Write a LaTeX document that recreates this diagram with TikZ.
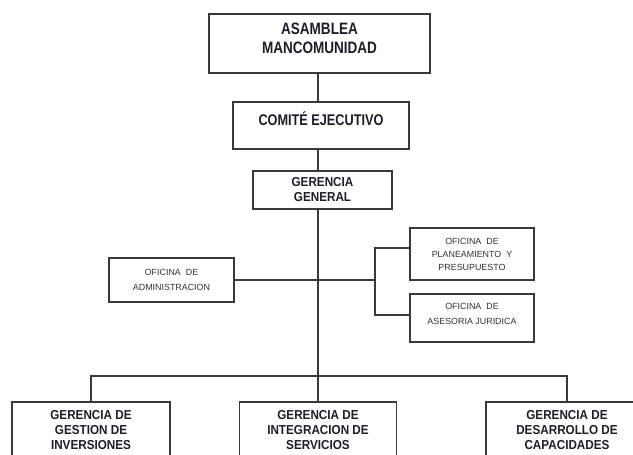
\documentclass[tikz,border=0pt]{standalone}
\usepackage{fontspec}
\setmainfont{Liberation Sans}
\newfontfamily\narrowfont{Liberation Sans}[FakeStretch=0.82]
\newfontfamily\gerfont{Liberation Sans}[FakeStretch=0.9]
\definecolor{ink}{HTML}{1E1E2A}
\definecolor{wire}{HTML}{3A3A3A}
\definecolor{softink}{HTML}{2E3632}
\begin{document}
\begin{tikzpicture}[x=1pt, y=-1pt,
  box/.style = {draw=wire, line width=1.3pt, inner sep=0pt},
  big/.style = {font=\narrowfont\bfseries\fontsize{16.5}{19}\selectfont, text=ink, align=center},
  ger/.style = {font=\gerfont\bfseries\fontsize{13}{15}\selectfont, text=ink, align=center},
  ofi/.style = {font=\fontsize{8.9}{15}\selectfont, text=softink, align=center}]
	\useasboundingbox (0,0) rectangle (633,455);
	\fill[white] (0,0) rectangle (633,455);
	\clip (0,0) rectangle (633,455);
	\node[box, minimum width=221pt, minimum height=59pt, label={[big, yshift=5pt]center:ASAMBLEA\\MANCOMUNIDAD}] (asm) at (319.5,43.5) {};
	\node[box, minimum width=176pt, minimum height=47pt, label={[big, font=\narrowfont\bfseries\fontsize{15.5}{18}\selectfont, yshift=6.5pt]center:COMITÉ EJECUTIVO}] (com) at (321,125.5) {};
	\node[box, minimum width=139pt, minimum height=38pt, label={[ger]center:GERENCIA\\GENERAL}] (gg) at (322.5,190) {};
	\node[box, minimum width=125pt, minimum height=44pt, label={[ofi]center:OFICINA\ \ DE\\ADMINISTRACION}] (adm) at (171.5,280) {};
	\node[box, minimum width=124pt, minimum height=52pt, label={[ofi, font=\fontsize{8.9}{13}\selectfont]center:OFICINA\ \ DE\\PLANEAMIENTO\ \ Y\\PRESUPUESTO}] (pla) at (472,254) {};
	\node[box, minimum width=124pt, minimum height=48pt, label={[ofi, yshift=4.5pt]center:OFICINA\ \ DE\\ASESORIA JURIDICA}] (ase) at (472,318) {};
	\node[box, minimum width=158pt, minimum height=58pt, label={[ger, yshift=1pt]center:GERENCIA DE\\GESTION DE\\INVERSIONES}] (inv) at (91,431) {};
	\node[box, minimum width=157pt, minimum height=58pt, label={[ger, yshift=1pt]center:GERENCIA DE\\INTEGRACION DE\\SERVICIOS}] (srv) at (318,431) {};
	\node[box, minimum width=162pt, minimum height=58pt, label={[ger, yshift=1pt]center:GERENCIA DE\\DESARROLLO DE\\CAPACIDADES}] (cap) at (567,431) {};
	\coordinate (brk) at (375,280);
	\coordinate (bus) at (318,376);
	\draw[wire, line width=1.2pt] (asm.south -| srv.north) -- (com.north -| srv.north);
	\draw[wire, line width=1.2pt] (com.south -| srv.north) -- (gg.north -| srv.north);
	\draw[wire, line width=1.2pt] (gg.south -| srv.north) -- (srv.north);
	\draw[wire, line width=1.2pt] (adm.east) -- (brk);
	\draw[wire, line width=1.2pt] ([yshift=6pt]pla.west) -| (brk) |- ([yshift=3pt]ase.west);
	\draw[wire, line width=1.2pt] (inv.north) |- (bus) -| (cap.north);
\end{tikzpicture}
\end{document}
